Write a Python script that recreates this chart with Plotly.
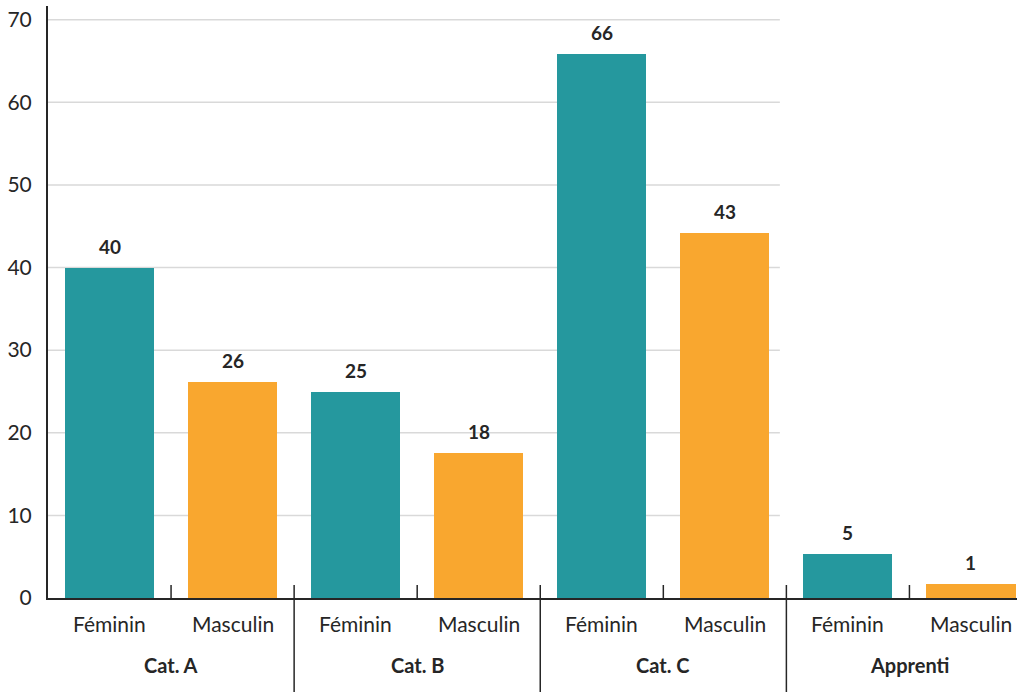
import plotly.graph_objects as go

groups = ["Cat. A", "Cat. B", "Cat. C", "Apprenti"]
sexes = ["Féminin", "Masculin"]
feminin = [39.9, 24.9, 65.9, 5.3]
masculin = [26.1, 17.6, 44.2, 1.7]
feminin_labels = ["40", "25", "66", "5"]
masculin_labels = ["26", "18", "43", "1"]
y_ticks = [0, 10, 20, 30, 40, 50, 60, 70]

TEAL = "#25989E"
ORANGE = "#F9A72F"
TXT = "#262626"
FONT = "Lato"

xf = [2 * i for i in range(len(groups))]
xm = [2 * i + 1 for i in range(len(groups))]

fig = go.Figure()
fig.add_bar(x=xf, y=feminin, marker=dict(color=TEAL, line=dict(width=0)), width=0.724,
            showlegend=False, hoverinfo="skip")
fig.add_bar(x=xm, y=masculin, marker=dict(color=ORANGE, line=dict(width=0)), width=0.724,
            showlegend=False, hoverinfo="skip")

ann = []
for x, v, t in list(zip(xf, feminin, feminin_labels)) + list(zip(xm, masculin, masculin_labels)):
    ann.append(dict(x=x, y=v, xref="x", yref="y", text="<b>%s</b>" % t, showarrow=False,
                    yanchor="bottom", yshift=8, font=dict(size=19, color=TXT, family=FONT)))

H_PLOT = 592.0
for i, g in enumerate(groups):
    for j, s in enumerate(sexes):
        ann.append(dict(x=2 * i + j, y=-25 / H_PLOT, xref="x", yref="paper", text=s, showarrow=False,
                        yanchor="middle", font=dict(size=21, color=TXT, family=FONT)))
    ann.append(dict(x=2 * i + 0.5, y=-67 / H_PLOT, xref="x", yref="paper", text="<b>%s</b>" % g,
                    showarrow=False, yanchor="middle", font=dict(size=20, color=TXT, family=FONT)))

shapes = []
for t in y_ticks[1:]:
    shapes.append(dict(type="line", xref="x", yref="y", x0=-0.5, x1=5.447, y0=t, y1=t,
                       line=dict(color="#D9D9D9", width=1.5), layer="below"))
for i in range(len(groups)):
    shapes.append(dict(type="line", xref="x", yref="paper", x0=2 * i + 0.5, x1=2 * i + 0.5,
                       y0=0, y1=13 / H_PLOT, line=dict(color=TXT, width=1.5)))
for i in range(1, len(groups)):
    shapes.append(dict(type="line", xref="x", yref="paper", x0=2 * i - 0.5, x1=2 * i - 0.5,
                       y0=-94 / H_PLOT, y1=13 / H_PLOT, line=dict(color=TXT, width=1.5)))

fig.update_layout(
    width=1017, height=692,
    margin=dict(l=48, r=0, t=6, b=94),
    plot_bgcolor="white", paper_bgcolor="white",
    bargap=0,
    annotations=ann, shapes=shapes,
    xaxis=dict(range=[-0.5, 7.374], showgrid=False, zeroline=False, showticklabels=False,
               showline=True, linecolor=TXT, linewidth=2, fixedrange=True),
    yaxis=dict(range=[0, 71.65], tickvals=y_ticks, showgrid=False, zeroline=False,
               showline=True, linecolor=TXT, linewidth=2, ticks="", ticklabelstandoff=10,
               tickfont=dict(size=21, color=TXT, family=FONT), fixedrange=True),
)

fig.write_html("out.html")
